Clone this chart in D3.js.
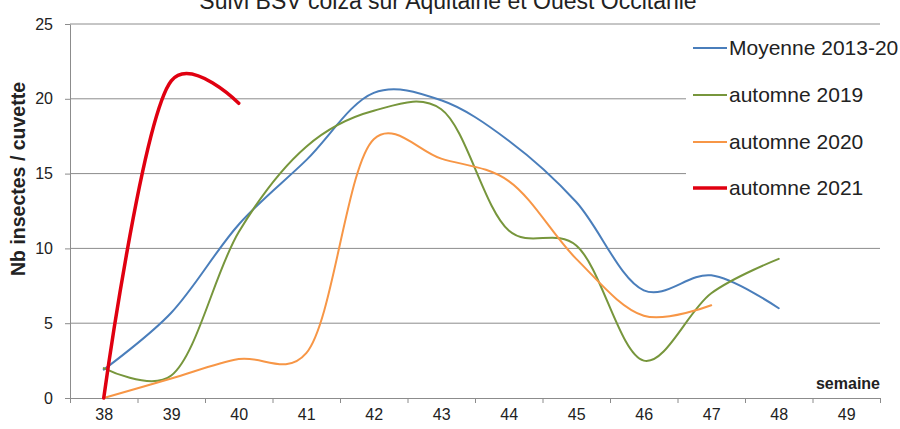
<!DOCTYPE html>
<html>
<head>
<meta charset="utf-8">
<script src="https://cdn.jsdelivr.net/npm/d3@7"></script>
<style>
  body { margin: 0; background: #fff; }
  svg { display: block; font-family: "Liberation Sans", Arial, sans-serif; }
  .grid line { stroke: #8c8c8c; }
  .axis path, .axis line { stroke: #8c8c8c; }
  .axis text { fill: #222; font-size: 16px; }
</style>
</head>
<body>
<div class="container"></div>
<script>
const WIDTH = 900;
const HEIGHT = 429;
const LEFT = 70, RIGHT = 880, TOP = 24, BOTTOM = 398;

// semaines
const weeks = [38, 39, 40, 41, 42, 43, 44, 45, 46, 47, 48, 49];
const yTicks = [0, 5, 10, 15, 20, 25];

const moyenne = [1.9, 5.7, 11.6, 15.9, 20.4, 19.9, 17.2, 13.1, 7.2, 8.2, 6.0];
const automne2019 = [2.0, 1.5, 11.1, 16.8, 19.2, 19.3, 11.2, 10.2, 2.5, 7.0, 9.3];
const automne2020 = [0, 1.3, 2.6, 3.0, 17.3, 16.0, 14.5, 9.3, 5.5, 6.2];
const automne2021 = [0, 21.2, 19.7];

const seriesNames = ["Moyenne 2013-20", "automne 2019", "automne 2020", "automne 2021"];
const seriesColors = ["#4a7ebb", "#77963c", "#f79646", "#e00010"];
const seriesWidths = [2, 2, 2, 3.5];

var translate = function (x, y) {
    return "translate(" + x + "," + y + ")";
};

var svg = d3.select(".container").append("svg")
    .attr("width", WIDTH)
    .attr("height", HEIGHT);

var xScale = d3.scaleLinear()
    .domain([weeks[0] - 0.5, weeks[weeks.length - 1] + 0.5])
    .range([LEFT, RIGHT]);

var yScale = d3.scaleLinear()
    .domain([0, 25])
    .range([BOTTOM, TOP]);

// title (cut off at the top like the original)
svg.append("text")
    .attr("x", 448)
    .attr("y", 9)
    .attr("text-anchor", "middle")
    .style("font-size", "23px")
    .style("fill", "#222")
    .text("Suivi BSV colza sur Aquitaine et Ouest Occitanie");

// horizontal gridlines
svg.append("g")
    .attr("class", "grid")
    .selectAll("line")
    .data(yTicks.slice(1))
    .enter().append("line")
    .attr("x1", LEFT)
    .attr("x2", RIGHT)
    .attr("y1", function (d) { return yScale(d); })
    .attr("y2", function (d) { return yScale(d); });

// y axis
var yAxis = d3.axisLeft(yScale).tickValues(yTicks).tickSizeInner(5).tickSizeOuter(0).tickPadding(12);
svg.append("g")
    .attr("class", "axis")
    .attr("transform", translate(LEFT, 0))
    .call(yAxis);

// x axis: labels at categories, tick marks between them
var xLabels = d3.axisBottom(xScale).tickValues(weeks).tickSize(0).tickPadding(11)
    .tickFormat(d3.format("d"));
svg.append("g")
    .attr("class", "axis")
    .attr("transform", translate(0, BOTTOM))
    .call(xLabels);

var xMarks = d3.axisBottom(xScale)
    .tickValues(d3.range(weeks[0] - 0.5, weeks[weeks.length - 1] + 1, 1))
    .tickSize(5).tickSizeOuter(0).tickFormat("");
svg.append("g")
    .attr("class", "axis")
    .attr("transform", translate(0, BOTTOM))
    .call(xMarks);

// legend background hides the gridlines behind it
svg.append("rect")
    .attr("x", 686)
    .attr("y", 30)
    .attr("width", 214)
    .attr("height", 182)
    .attr("fill", "#fff");

// lines (smoothed like the spreadsheet)
var line = d3.line()
    .x(function (d, i) { return xScale(weeks[i]); })
    .y(function (d) { return yScale(d); })
    .curve(d3.curveCatmullRom.alpha(0.25));

var allSeries = [moyenne, automne2019, automne2020, automne2021];
svg.append("g")
    .selectAll("path")
    .data(allSeries)
    .enter().append("path")
    .attr("d", function (d) { return line(d); })
    .attr("fill", "none")
    .attr("stroke", function (d, i) { return seriesColors[i]; })
    .attr("stroke-width", function (d, i) { return seriesWidths[i]; })
    .attr("stroke-linejoin", "round")
    .attr("stroke-linecap", "round");

// legend
var legendY = [48, 95, 142, 188];
var legend = svg.append("g")
    .selectAll("g")
    .data(seriesNames)
    .enter().append("g")
    .attr("transform", function (d, i) { return translate(693, legendY[i]); });

legend.append("line")
    .attr("x1", 0).attr("x2", 34)
    .attr("stroke", function (d, i) { return seriesColors[i]; })
    .attr("stroke-width", function (d, i) { return seriesWidths[i]; });

legend.append("text")
    .attr("x", 36)
    .attr("dy", "0.35em")
    .style("font-size", "21px")
    .style("fill", "#222")
    .text(function (d) { return d; });

// axis titles
svg.append("text")
    .attr("transform", translate(25, 179) + " rotate(-90)")
    .attr("text-anchor", "middle")
    .style("font-size", "19.5px")
    .style("font-weight", "bold")
    .style("fill", "#222")
    .text("Nb insectes / cuvette");

svg.append("text")
    .attr("x", RIGHT)
    .attr("y", 389)
    .attr("text-anchor", "end")
    .style("font-size", "16px")
    .style("font-weight", "bold")
    .style("fill", "#222")
    .text("semaine");
</script>
</body>
</html>
